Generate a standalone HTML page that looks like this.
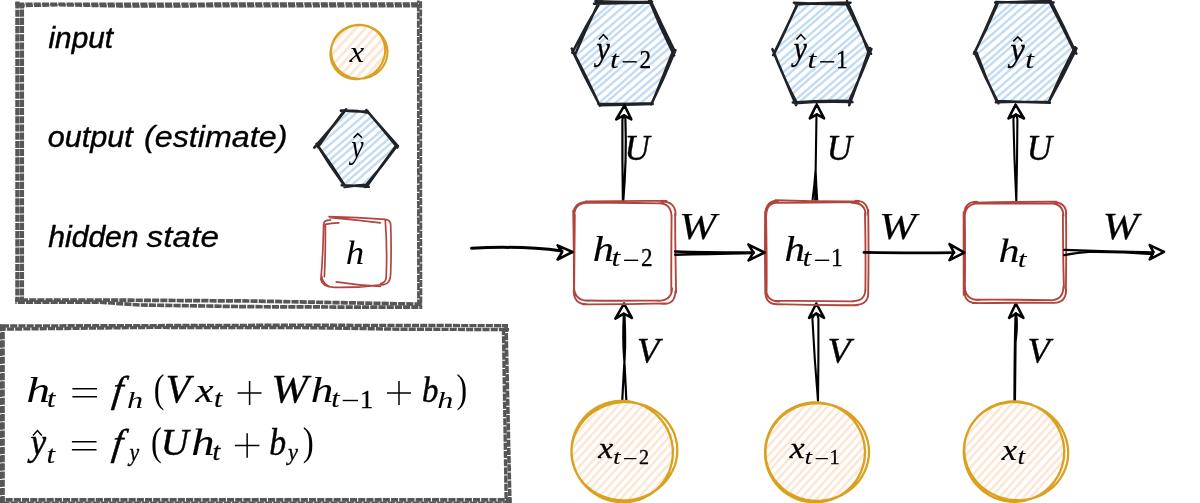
<!DOCTYPE html>
<html><head><meta charset="utf-8"><title>RNN</title>
<style>html,body{margin:0;padding:0;background:#fff;}svg{display:block;will-change:transform;}text{white-space:pre;font-kerning:none;}</style></head>
<body><svg width="1200" height="503" viewBox="0 0 1200 503">
<rect width="1200" height="503" fill="#fff"/>
<path d="M17.4,1.5 L17.4,301.5" fill="none" stroke="#565656" stroke-width="4.3" stroke-dasharray="7.1 1.1" stroke-dashoffset="0.0" stroke-linejoin="round"/>
<path d="M21.9,4.5 L21.9,300.5" fill="none" stroke="#565656" stroke-width="4.3" stroke-dasharray="7.1 1.1" stroke-dashoffset="3.1" stroke-linejoin="round"/>
<path d="M15.3,3.9 L60.0,3.9 L421.5,3.6" fill="none" stroke="#565656" stroke-width="2.8" stroke-dasharray="7.1 1.1" stroke-dashoffset="6.2" stroke-linejoin="round"/>
<path d="M19.0,6.0 L60.0,5.2 L120.0,6.3 L421.5,6.2" fill="none" stroke="#565656" stroke-width="2.7" stroke-dasharray="7.1 1.1" stroke-dashoffset="1.3" stroke-linejoin="round"/>
<path d="M418.3,0.5 L418.5,305.0" fill="none" stroke="#565656" stroke-width="2.8" stroke-dasharray="7.1 1.1" stroke-dashoffset="4.4" stroke-linejoin="round"/>
<path d="M420.7,0.5 L420.9,308.8" fill="none" stroke="#565656" stroke-width="2.8" stroke-dasharray="7.1 1.1" stroke-dashoffset="7.5" stroke-linejoin="round"/>
<path d="M15.3,300.0 L130.0,300.2 L250.0,301.0 L390.0,303.6 L421.8,304.2" fill="none" stroke="#565656" stroke-width="3.7" stroke-dasharray="7.1 1.1" stroke-dashoffset="2.6" stroke-linejoin="round"/>
<path d="M15.3,302.2 L100.0,302.2 L140.0,305.0 L250.0,306.7 L380.0,307.2 L421.8,307.2" fill="none" stroke="#565656" stroke-width="3.7" stroke-dasharray="7.1 1.1" stroke-dashoffset="5.7" stroke-linejoin="round"/>
<text transform="translate(48.52,47.50) scale(1.0075,1.0000)" font-family='"Liberation Sans", sans-serif' font-style="italic" font-weight="normal" font-size="29.50" fill="#000" stroke="#000" stroke-width="0.47" stroke-linejoin="round">input</text>
<text transform="translate(47.70,146.70) scale(1.0368,1.0000)" font-family='"Liberation Sans", sans-serif' font-style="italic" font-weight="normal" font-size="29.50" fill="#000" stroke="#000" stroke-width="0.42" stroke-linejoin="round">output</text>
<text transform="translate(143.99,146.70) scale(1.0938,1.0000)" font-family='"Liberation Sans", sans-serif' font-style="italic" font-weight="normal" font-size="29.50" fill="#000" stroke="#000" stroke-width="0.33" stroke-linejoin="round">(estimate)</text>
<text transform="translate(48.20,246.70) scale(1.0212,1.0000)" font-family='"Liberation Sans", sans-serif' font-style="italic" font-weight="normal" font-size="29.50" fill="#000" stroke="#000" stroke-width="0.45" stroke-linejoin="round">hidden</text>
<text transform="translate(146.62,246.70) scale(1.1324,1.0000)" font-family='"Liberation Sans", sans-serif' font-style="italic" font-weight="normal" font-size="29.50" fill="#000" stroke="#000" stroke-width="0.27" stroke-linejoin="round">state</text>
<defs><clipPath id="lc"><ellipse cx="358.5" cy="52" rx="27" ry="27"/></clipPath></defs>
<path clip-path="url(#lc)" d="M296.2,55.0L355.3,-10.0M301.2,59.6L360.2,-5.6M306.3,64.2L364.7,-1.6M310.7,68.1L370.3,3.4M315.8,72.7L374.6,7.4M321.4,77.7L379.7,12.0M326.2,82.0L384.7,16.4M330.9,86.3L389.3,20.6M335.8,90.7L394.8,25.6M340.6,95.0L399.6,29.9M345.6,99.6L403.9,33.7M350.6,104.0L409.3,38.6M355.1,108.1L413.7,42.5M360.5,113.0L419.0,47.3" stroke="#fce7d6" stroke-width="2.8" fill="none" stroke-linecap="round"/>
<path d="M354.3,25.3 L357.2,25.0 L360.3,24.9 L363.3,25.2 L366.2,25.8 L369.1,26.6 L371.8,27.8 L374.5,29.2 L376.9,30.9 L379.2,32.8 L381.2,35.0 L382.9,37.3 L384.4,39.8 L385.7,42.4 L386.6,45.2 L387.2,48.0 L387.5,50.9 L387.4,53.7 L387.1,56.6 L386.4,59.4 L385.4,62.1 L384.2,64.7 L382.6,67.1 L380.8,69.4 L378.7,71.5 L376.4,73.3 L373.9,74.9 L371.3,76.2 L368.5,77.3 L365.6,78.1 L362.6,78.5 L359.6,78.7 L356.6,78.6 L353.6,78.1 L350.7,77.4 L347.9,76.3 L345.2,75.0 L342.7,73.4 L340.4,71.6 L338.3,69.6 L336.4,67.3 L334.8,64.9 L333.4,62.3 L332.4,59.6 L331.6,56.8 L331.2,54.0 L331.1,51.1 L331.3,48.2 L331.9,45.4 L332.7,42.7 L333.9,40.0 L335.3,37.5 L337.0,35.2 L339.0,33.0 L341.2,31.1 L343.6,29.3 L346.2,27.9 L348.9,26.7 L351.8,25.8 L354.7,25.2 L357.7,24.9 L360.7,24.9 L363.7,25.3 L366.6,25.9 L369.5,26.8M381.6,37.2 L382.9,39.6 L383.9,42.2 L384.6,44.8 L385.0,47.6 L385.2,50.4 L385.0,53.2 L384.6,56.0 L383.8,58.7 L382.8,61.4 L381.6,64.0 L380.0,66.4 L378.3,68.7 L376.3,70.8 L374.1,72.8 L371.7,74.5 L369.2,75.9 L366.6,77.1 L363.8,78.0 L361.1,78.7 L358.2,79.1 L355.4,79.2 L352.6,78.9 L349.8,78.4 L347.2,77.7 L344.6,76.6 L342.2,75.3 L340.0,73.7 L337.9,71.9 L336.1,69.9 L334.5,67.7 L333.1,65.3 L332.0,62.8 L331.2,60.2 L330.7,57.5 L330.4,54.7 L330.5,51.9 L330.9,49.1 L331.5,46.3 L332.4,43.6 L333.6,41.0 L335.1,38.5 L336.8,36.2 L338.7,34.0 L340.8,32.0 L343.1,30.3 L345.6,28.7 L348.2,27.4 L350.9,26.4 L353.7,25.7 L356.5,25.2 L359.3,25.0 L362.1,25.2 L364.9,25.6 L367.6,26.3 L370.2,27.2 L372.7,28.5 L375.0,30.0 L377.1,31.7 L379.0,33.6 L380.7,35.8 L382.1,38.1 L383.3,40.6 L384.2,43.2 L384.8,45.9" fill="none" stroke="#d9a11f" stroke-width="2.1" stroke-linecap="round" stroke-linejoin="round"/>
<text transform="translate(349.60,61.90) scale(1.0891,1.0000)" font-family='"Liberation Serif", serif' font-style="italic" font-weight="normal" font-size="30.28" fill="#000">x</text>
<defs><clipPath id="lh"><path d="M317.3,146.5 L343.6,111.2 L367.6,111.7 L396.8,147.0 L366.8,185.6 L344.6,185.5 Z"/></clipPath></defs>
<path clip-path="url(#lh)" d="M272.1,141.7L362.4,62.9M276.1,146.2L366.2,67.2M279.3,149.9L370.2,71.9M284.1,155.5L374.4,76.7M287.6,159.5L377.3,80.1M291.0,163.4L381.1,84.4M294.3,167.1L384.6,88.4M298.0,171.5L389.4,93.9M302.5,176.6L392.9,98.0M306.2,180.9L395.8,101.3M309.2,184.4L400.1,106.2M313.5,189.3L404.1,110.9M317.4,193.7L406.8,113.9M320.7,197.6L411.2,119.1M324.3,201.7L414.3,122.6M328.0,205.9L417.9,126.7M332.3,210.9L422.6,132.1M335.5,214.5L425.6,135.6M339.6,219.3L429.6,140.2M343.3,223.5L433.7,144.9M346.5,227.2L436.8,148.5M350.3,231.6L440.5,152.8" stroke="#c3dbf3" stroke-width="2.4" fill="none" stroke-linecap="round"/>
<path d="M318.0,147.1Q330.2,128.8 344.4,110.5M340.9,110.6Q354.6,109.8 368.3,112.7M366.4,110.1Q381.8,127.7 397.4,147.5M395.4,146.8Q380.9,166.5 366.5,186.8M367.7,184.9Q356.1,185.1 344.5,187.0M344.2,184.6Q332.2,165.6 318.0,146.0M314.3,147.6Q331.7,128.3 346.1,109.4M344.7,110.5Q356.2,111.9 367.8,111.2M366.5,110.5Q382.0,128.2 397.9,146.2M395.7,147.4Q381.0,167.6 364.6,186.8M368.7,186.8Q355.2,185.4 341.7,185.2M343.6,184.6Q329.5,165.2 316.6,143.9" fill="none" stroke="#1f2328" stroke-width="2.6" stroke-linecap="round" stroke-linejoin="round"/>
<text transform="translate(351.33,157.60) scale(0.8194,1.0000)" font-family='"Liberation Serif", serif' font-style="italic" font-weight="normal" font-size="33.99" fill="#000">y</text>
<path d="M353.55,137.80 L357.80,133.60 L362.05,137.80" fill="none" stroke="#000" stroke-width="1.5" stroke-linejoin="miter" stroke-linecap="butt"/>
<path d="M329,216.6 Q357,217.4 385.3,219.3 Q390.9,219.9 390.7,225.5 Q391.6,250 390.6,274.8 Q390.2,284 383.6,284.6 Q360,287.8 335.3,287.3 Q322.5,287.6 320.9,279.6 Q323.2,252 323.6,224.7 Q323.8,219.6 330.4,220.2 M338.8,222.9 Q331,223.2 325.4,224.4 Q325.6,250 324.4,276.8 M329.9,217.6 Q355,219.6 380.4,222.9 M385.3,220.6 Q387.4,248 386.2,277 Q386,282.6 380.6,283.6 M336.2,281.9 Q358,285.4 380.4,286.4 M321.6,276 Q322.6,284 330,286.8" fill="none" stroke="#b2443e" stroke-width="1.7" stroke-linecap="round" stroke-linejoin="round"/>
<text transform="translate(345.67,263.90) scale(1.0723,1.0000)" font-family='"Liberation Serif", serif' font-style="italic" font-weight="normal" font-size="34.45" fill="#000">h</text>
<path d="M0.2,324.2 L0.2,503.0" fill="none" stroke="#565656" stroke-width="3.8" stroke-dasharray="7.1 1.1" stroke-dashoffset="0.0" stroke-linejoin="round"/>
<path d="M3.0,327.0 L3.0,503.0" fill="none" stroke="#565656" stroke-width="3.6" stroke-dasharray="7.1 1.1" stroke-dashoffset="3.1" stroke-linejoin="round"/>
<path d="M0.0,326.0 L150.0,325.6 L300.0,325.2 L508.0,325.7" fill="none" stroke="#565656" stroke-width="3.4" stroke-dasharray="7.1 1.1" stroke-dashoffset="6.2" stroke-linejoin="round"/>
<path d="M0.0,329.2 L150.0,327.4 L300.0,327.6 L400.0,329.2 L509.0,329.6" fill="none" stroke="#565656" stroke-width="3.4" stroke-dasharray="7.1 1.1" stroke-dashoffset="1.3" stroke-linejoin="round"/>
<path d="M503.4,324.2 L506.2,503.0" fill="none" stroke="#565656" stroke-width="3.4" stroke-dasharray="7.1 1.1" stroke-dashoffset="4.4" stroke-linejoin="round"/>
<path d="M506.0,324.2 L509.9,503.0" fill="none" stroke="#565656" stroke-width="3.6" stroke-dasharray="7.1 1.1" stroke-dashoffset="7.5" stroke-linejoin="round"/>
<path d="M0.0,499.9 L511.5,499.9" fill="none" stroke="#565656" stroke-width="3.6" stroke-dasharray="7.1 1.1" stroke-dashoffset="2.6" stroke-linejoin="round"/>
<path d="M0.0,503.2 L511.8,503.2" fill="none" stroke="#565656" stroke-width="3.6" stroke-dasharray="7.1 1.1" stroke-dashoffset="5.7" stroke-linejoin="round"/>
<text transform="translate(26.37,402.20) scale(1.3168,1.0000)" font-family='"Liberation Serif", serif' font-style="italic" font-weight="normal" font-size="36.32" fill="#000">h</text>
<text transform="translate(46.97,407.10) scale(1.2023,1.0000)" font-family='"Liberation Serif", serif' font-style="italic" font-weight="normal" font-size="25.22" fill="#000" stroke="#000" stroke-width="0.16" stroke-linejoin="round">t</text>
<path d="M72.4,388.8H97M72.4,396.7H97" stroke="#000" stroke-width="1.5" fill="none"/>
<text transform="translate(111.56,402.20) scale(0.9986,1.0000) skewX(-7.0)" font-family='"Liberation Serif", serif' font-style="italic" font-weight="normal" font-size="37.35" fill="#000" stroke="#000" stroke-width="0.45" stroke-linejoin="round">f</text>
<text transform="translate(127.04,407.60) scale(1.3623,1.0000)" font-family='"Liberation Serif", serif' font-style="italic" font-weight="normal" font-size="23.64" fill="#000">h</text>
<text transform="translate(153.80,402.42) scale(0.7982,0.9953)" font-family='"Liberation Serif", serif' font-style="normal" font-weight="normal" font-size="40.00" fill="#000">(</text>
<text transform="translate(165.71,402.20) scale(1.0195,1.0000)" font-family='"Liberation Serif", serif' font-style="italic" font-weight="normal" font-size="39.25" fill="#000" stroke="#000" stroke-width="0.45" stroke-linejoin="round">V</text>
<text transform="translate(195.50,402.20) scale(1.1708,1.0000)" font-family='"Liberation Serif", serif' font-style="italic" font-weight="normal" font-size="34.64" fill="#000" stroke="#000" stroke-width="0.21" stroke-linejoin="round">x</text>
<text transform="translate(213.98,407.30) scale(1.1702,1.0000)" font-family='"Liberation Serif", serif' font-style="italic" font-weight="normal" font-size="25.58" fill="#000" stroke="#000" stroke-width="0.21" stroke-linejoin="round">t</text>
<path d="M237.6,392.9H261.6M249.60000000000002,380.9V404.9" stroke="#000" stroke-width="1.5" fill="none"/>
<text transform="translate(271.29,402.20) scale(1.1246,1.0000)" font-family='"Liberation Serif", serif' font-style="italic" font-weight="normal" font-size="39.25" fill="#000" stroke="#000" stroke-width="0.28" stroke-linejoin="round">W</text>
<text transform="translate(310.87,402.20) scale(1.2305,1.0000)" font-family='"Liberation Serif", serif' font-style="italic" font-weight="normal" font-size="36.75" fill="#000" stroke="#000" stroke-width="0.11" stroke-linejoin="round">h</text>
<text transform="translate(331.37,407.10) scale(1.2283,1.0000)" font-family='"Liberation Serif", serif' font-style="italic" font-weight="normal" font-size="24.69" fill="#000" stroke="#000" stroke-width="0.11" stroke-linejoin="round">t</text>
<path d="M342.7,400.5H358" stroke="#000" stroke-width="1.4"/>
<text transform="translate(360.08,407.60) scale(1.0319,1.0000)" font-family='"Liberation Serif", serif' font-style="normal" font-weight="normal" font-size="25.60" fill="#000" stroke="#000" stroke-width="0.35" stroke-linejoin="round">1</text>
<path d="M387,392.9H411M399.0,380.9V404.9" stroke="#000" stroke-width="1.5" fill="none"/>
<text transform="translate(421.88,402.20) scale(0.9037,1.0000)" font-family='"Liberation Serif", serif' font-style="italic" font-weight="normal" font-size="36.32" fill="#000" stroke="#000" stroke-width="0.45" stroke-linejoin="round">b</text>
<text transform="translate(437.24,407.60) scale(1.3623,1.0000)" font-family='"Liberation Serif", serif' font-style="italic" font-weight="normal" font-size="23.64" fill="#000">h</text>
<text transform="translate(456.47,402.42) scale(0.7982,0.9953)" font-family='"Liberation Serif", serif' font-style="normal" font-weight="normal" font-size="40.00" fill="#000">)</text>
<text transform="translate(30.54,454.80) scale(0.9458,1.0000)" font-family='"Liberation Serif", serif' font-style="italic" font-weight="normal" font-size="37.26" fill="#000" stroke="#000" stroke-width="0.45" stroke-linejoin="round">y</text>
<path d="M33.00,435.50 L37.40,430.60 L41.80,435.50" fill="none" stroke="#000" stroke-width="1.5" stroke-linejoin="miter" stroke-linecap="butt"/>
<text transform="translate(46.43,463.40) scale(1.2336,1.0000)" font-family='"Liberation Serif", serif' font-style="italic" font-weight="normal" font-size="25.22" fill="#000" stroke="#000" stroke-width="0.11" stroke-linejoin="round">t</text>
<path d="M71.9,441.8H96.5M71.9,449.7H96.5" stroke="#000" stroke-width="1.5" fill="none"/>
<text transform="translate(111.16,455.20) scale(0.9986,1.0000) skewX(-7.0)" font-family='"Liberation Serif", serif' font-style="italic" font-weight="normal" font-size="37.35" fill="#000" stroke="#000" stroke-width="0.45" stroke-linejoin="round">f</text>
<text transform="translate(129.42,460.60) scale(0.8772,1.0000)" font-family='"Liberation Serif", serif' font-style="italic" font-weight="normal" font-size="24.84" fill="#000" stroke="#000" stroke-width="0.35" stroke-linejoin="round">y</text>
<text transform="translate(151.08,455.21) scale(0.8079,1.0091)" font-family='"Liberation Serif", serif' font-style="normal" font-weight="normal" font-size="40.00" fill="#000">(</text>
<text transform="translate(160.63,455.20) scale(0.9978,1.0000)" font-family='"Liberation Serif", serif' font-style="italic" font-weight="normal" font-size="38.94" fill="#000" stroke="#000" stroke-width="0.45" stroke-linejoin="round">U</text>
<text transform="translate(191.31,455.20) scale(1.2259,1.0000)" font-family='"Liberation Serif", serif' font-style="italic" font-weight="normal" font-size="38.05" fill="#000" stroke="#000" stroke-width="0.12" stroke-linejoin="round">h</text>
<text transform="translate(212.59,459.70) scale(1.0930,1.0000)" font-family='"Liberation Serif", serif' font-style="italic" font-weight="normal" font-size="25.22" fill="#000" stroke="#000" stroke-width="0.33" stroke-linejoin="round">t</text>
<path d="M234.9,445.5H259.4M247.14999999999998,433.25V457.75" stroke="#000" stroke-width="1.5" fill="none"/>
<text transform="translate(269.35,455.20) scale(0.8870,1.0000)" font-family='"Liberation Serif", serif' font-style="italic" font-weight="normal" font-size="38.05" fill="#000" stroke="#000" stroke-width="0.45" stroke-linejoin="round">b</text>
<text transform="translate(288.07,460.40) scale(0.9501,1.0000)" font-family='"Liberation Serif", serif' font-style="italic" font-weight="normal" font-size="23.53" fill="#000" stroke="#000" stroke-width="0.35" stroke-linejoin="round">y</text>
<text transform="translate(302.73,455.21) scale(0.8274,1.0091)" font-family='"Liberation Serif", serif' font-style="normal" font-weight="normal" font-size="40.00" fill="#000">)</text>
<defs><clipPath id="hx0"><path d="M574.3,52.0 L598.5,2.6 L650.4,2.2 L673.2,52.0 L651.6,104.0 L598.8,104.0 Z"/></clipPath></defs>
<path clip-path="url(#hx0)" d="M518.0,45.8L630.9,-53.0M521.1,49.3L635.0,-48.2M525.0,53.8L638.2,-44.5M529.0,58.3L642.4,-39.7M533.4,63.5L645.9,-35.7M537.1,67.7L650.3,-30.6M539.9,70.9L652.8,-27.8M543.4,75.0L657.5,-22.3M547.7,79.9L661.3,-18.0M551.9,84.7L664.6,-14.1M555.0,88.3L667.6,-10.7M558.1,91.8L672.2,-5.4M562.6,97.0L675.9,-1.2M566.2,101.1L679.5,2.9M570.0,105.5L683.5,7.5M573.0,109.0L686.6,11.2M576.9,113.5L690.8,15.9M581.4,118.6L693.7,19.3M584.0,121.7L697.4,23.6M588.1,126.3L701.8,28.6M591.9,130.7L705.5,32.8M595.4,134.8L708.9,36.8M599.0,138.9L712.7,41.2M603.1,143.6L716.7,45.8M607.4,148.5L720.0,49.5M609.9,151.5L724.2,54.4M614.8,157.0L727.3,58.0" stroke="#c3dbf3" stroke-width="2.4" fill="none" stroke-linecap="round"/>
<path d="M572.3,52.6Q585.5,26.2 601.2,0.3M594.0,3.8Q622.3,3.1 650.6,2.6M649.3,-2.1Q661.9,25.1 674.7,51.1M675.5,50.1Q664.3,77.9 651.1,104.7M652.7,103.9Q626.1,104.8 599.5,105.2M599.0,104.0Q584.3,76.8 572.3,50.6M575.1,54.6Q585.8,29.3 598.0,4.0M595.4,1.2Q623.7,2.4 652.1,1.8M649.5,0.8Q660.4,28.1 674.2,55.5M673.2,50.8Q663.2,76.6 652.0,103.3M652.2,103.2Q625.3,104.2 598.3,103.8M599.8,105.8Q587.0,77.4 571.7,48.5" fill="none" stroke="#1f2328" stroke-width="2.5" stroke-linecap="round" stroke-linejoin="round"/>
<defs><clipPath id="hx1"><path d="M774.5,53.0 L797.2,4.0 L847.6,3.0 L869.6,51.0 L849.8,101.6 L796.0,102.0 Z"/></clipPath></defs>
<path clip-path="url(#hx1)" d="M718.9,44.6L828.7,-50.6M723.1,49.4L833.2,-45.4M726.5,53.3L836.1,-42.0M730.3,57.7L840.7,-36.8M733.9,61.8L844.3,-32.6M738.3,66.9L847.2,-29.2M741.8,70.9L851.3,-24.5M745.4,75.0L855.8,-19.4M748.6,78.8L858.2,-16.6M753.5,84.3L862.4,-11.8M756.2,87.4L866.0,-7.7M760.1,92.0L870.5,-2.5M763.6,96.0L873.2,0.7M767.8,100.8L877.4,5.4M772.0,105.6L881.5,10.1M774.9,109.0L884.3,13.4M779.2,113.9L889.1,18.9M781.9,117.0L892.4,22.7M786.7,122.5L896.0,26.9M789.5,125.8L899.9,31.3M793.9,130.8L902.8,34.7M797.5,134.9L906.6,39.0M800.4,138.3L910.4,43.4M804.5,143.0L914.2,47.8M808.6,147.7L918.5,52.7M812.7,152.4L922.3,57.2" stroke="#c3dbf3" stroke-width="2.4" fill="none" stroke-linecap="round"/>
<path d="M773.1,55.2Q785.5,29.5 797.6,4.2M795.5,4.5Q823.0,2.3 850.5,2.8M847.0,1.1Q859.4,27.2 868.4,52.0M871.4,49.0Q861.3,75.1 848.5,102.5M850.8,101.0Q821.8,100.2 792.8,102.4M796.1,105.2Q785.0,79.2 773.9,52.8M774.5,53.3Q785.9,29.6 797.0,4.7M793.9,2.7Q820.5,4.4 847.0,4.1M846.5,4.2Q858.4,28.9 871.0,53.8M869.9,48.0Q859.9,76.8 849.2,105.3M852.4,102.1Q823.6,101.0 794.7,103.2M797.2,103.7Q783.1,76.9 772.4,49.1" fill="none" stroke="#1f2328" stroke-width="2.5" stroke-linecap="round" stroke-linejoin="round"/>
<defs><clipPath id="hx2"><path d="M975.5,52.5 L997.2,2.4 L1049.6,2.0 L1074.6,51.4 L1047.8,101.6 L998.3,101.8 Z"/></clipPath></defs>
<path clip-path="url(#hx2)" d="M919.6,43.9L1032.0,-53.4M923.6,48.5L1036.6,-48.1M927.6,53.1L1040.1,-44.1M930.8,56.7L1043.5,-40.2M935.4,62.1L1047.2,-35.9M939.3,66.5L1051.4,-31.1M942.2,69.9L1053.9,-28.2M946.4,74.7L1057.8,-23.7M949.2,77.9L1062.3,-18.6M953.9,83.4L1066.1,-14.1M957.8,87.8L1069.0,-10.8M960.4,90.8L1072.6,-6.7M965.2,96.4L1076.3,-2.5M967.9,99.4L1079.9,1.7M971.4,103.5L1083.6,5.9M975.5,108.2L1087.4,10.4M979.2,112.4L1092.1,15.8M982.7,116.4L1095.7,19.9M987.1,121.5L1099.1,23.8M990.6,125.6L1103.0,28.3M994.3,129.8L1106.0,31.8M997.7,133.7L1109.7,36.0M1001.5,138.1L1114.4,41.4M1005.2,142.4L1116.9,44.3M1009.0,146.7L1121.6,49.7M1012.6,150.9L1125.2,53.8M1015.9,154.6L1128.0,57.1" stroke="#c3dbf3" stroke-width="2.4" fill="none" stroke-linecap="round"/>
<path d="M974.0,53.6Q987.3,27.8 997.8,3.3M995.1,2.4Q1021.5,1.9 1047.8,1.1M1050.3,0.2Q1063.9,26.3 1076.4,53.7M1075.0,47.2Q1060.7,74.5 1048.4,102.7M1049.1,101.7Q1022.5,101.7 995.8,102.2M998.5,103.3Q985.0,78.0 974.4,52.0M974.3,53.6Q986.1,28.3 996.9,2.8M996.0,2.0Q1024.8,2.9 1053.6,2.4M1047.5,-2.0Q1062.4,26.3 1075.3,53.1M1076.5,48.4Q1063.4,75.7 1048.7,102.2M1049.9,102.8Q1023.6,101.8 997.4,101.0M997.1,102.1Q985.2,77.5 976.5,52.5" fill="none" stroke="#1f2328" stroke-width="2.5" stroke-linecap="round" stroke-linejoin="round"/>
<defs><clipPath id="cc0"><ellipse cx="623.2" cy="451.2" rx="52" ry="49.4"/></clipPath></defs>
<path clip-path="url(#cc0)" d="M516.3,456.8L617.4,344.1M520.8,460.9L621.8,348.0M525.0,464.7L626.8,352.5M529.0,468.3L630.6,356.0M534.0,472.7L634.8,359.7M537.9,476.3L639.8,364.3M543.0,480.9L643.7,367.8M546.7,484.2L648.7,372.3M551.2,488.3L652.8,375.9M555.8,492.4L657.2,379.9M560.5,496.6L661.9,384.1M564.7,500.4L666.1,387.9M569.1,504.4L670.3,391.7M573.2,508.1L674.4,395.4M577.4,511.9L679.4,399.9M582.2,516.2L683.0,403.2M586.8,520.3L687.5,407.2M591.0,524.1L692.1,411.3M595.0,527.7L696.3,415.1M599.6,531.9L700.8,419.2M604.1,535.9L705.5,423.4M608.6,540.0L710.0,427.4M612.8,543.8L714.5,431.5M617.1,547.6L718.8,435.4M621.8,551.8L723.1,439.3M625.5,555.2L727.3,443.0" stroke="#fce7d6" stroke-width="2.5" fill="none" stroke-linecap="round"/>
<defs><clipPath id="cc1"><ellipse cx="816" cy="452" rx="50.8" ry="49.2"/></clipPath></defs>
<path clip-path="url(#cc1)" d="M710.2,457.3L810.5,346.5M714.6,461.2L815.1,350.7M719.0,465.2L819.3,354.4M724.0,469.7L823.5,358.2M728.4,473.7L828.2,362.5M732.4,477.3L832.5,366.3M736.9,481.3L836.7,370.1M741.6,485.6L841.1,374.0M746.0,489.5L845.9,378.3M749.5,492.7L849.7,381.8M754.3,497.0L854.6,386.2M758.4,500.7L858.8,390.0M763.0,504.8L863.3,394.1M767.9,509.2L867.7,398.0M771.6,512.6L872.1,402.0M776.2,516.7L876.5,406.0M780.6,520.7L881.0,410.0M785.4,525.0L885.3,413.8M789.7,528.9L889.7,417.8M793.9,532.6L893.5,421.2M798.6,536.9L898.1,425.4M802.1,540.0L902.5,429.3M806.9,544.3L906.7,433.1M811.7,548.7L911.0,437.0M816.1,552.6L915.7,441.3M819.8,556.0L920.0,445.1" stroke="#fce7d6" stroke-width="2.5" fill="none" stroke-linecap="round"/>
<defs><clipPath id="cc2"><ellipse cx="1015" cy="451.2" rx="51.2" ry="49.2"/></clipPath></defs>
<path clip-path="url(#cc2)" d="M909.5,457.1L1009.1,344.9M913.7,460.9L1013.8,349.2M918.2,465.0L1018.1,353.1M922.6,468.9L1022.3,356.8M927.0,472.9L1026.9,361.0M930.7,476.2L1031.2,364.9M935.5,480.5L1035.3,368.6M939.7,484.3L1039.7,372.5M943.8,488.0L1044.2,376.6M948.3,492.1L1048.7,380.6M953.2,496.5L1053.2,384.7M957.6,500.5L1058.0,389.0M962.0,504.4L1062.5,393.0M966.1,508.1L1066.6,396.7M970.8,512.3L1070.9,400.6M974.5,515.7L1075.2,404.5M979.2,519.9L1079.3,408.2M983.2,523.5L1083.7,412.1M988.2,528.0L1088.6,416.6M992.5,531.9L1092.7,420.2M996.3,535.3L1096.7,423.8M1001.3,539.8L1101.6,428.2M1005.5,543.6L1105.6,431.9M1009.6,547.3L1110.0,435.8M1014.0,551.2L1114.8,440.1M1018.5,555.3L1119.1,444.0" stroke="#fce7d6" stroke-width="2.5" fill="none" stroke-linecap="round"/>
<path d="M622.9,201.7 Q622.2,160.0 622.4,119.7M622.4,119.7 Q622.8,117.0 624.2,115.5M623.2,201.7 Q626.8,160.0 625.4,119.0M625.4,119.0 Q625.2,117.0 624.4,115.5" fill="none" stroke="#000" stroke-width="2.2" stroke-linecap="round" stroke-linejoin="round"/>
<path d="M616.2,119.4 L624.5,105.4M616.2,119.4 L624.0,115.4M631.3,119.3 L624.5,105.4M631.3,119.3 L624.0,115.4" fill="none" stroke="#000" stroke-width="2.55" stroke-linecap="round" stroke-linejoin="round"/>
<path d="M812.6,199.7 Q814.5,185.0 815.6,170.0M817.2,199.7 Q816.2,185.0 815.6,170.0M815.2,199.7 Q815.8,150.0 816.5,114.5" fill="none" stroke="#000" stroke-width="2.1" stroke-linecap="round" stroke-linejoin="round"/>
<path d="M809.8,118.4 L816.7,104.4M809.8,118.4 L816.9,114.4M824.1,118.4 L816.7,104.4M824.1,118.4 L816.9,114.4" fill="none" stroke="#000" stroke-width="2.55" stroke-linecap="round" stroke-linejoin="round"/>
<path d="M1016.3,200.8 Q1014.2,160.0 1013.4,119.0M1013.4,119.0 Q1014.0,116.0 1015.4,114.6M1016.3,200.8 Q1017.2,160.0 1017.4,119.0M1017.4,119.0 Q1016.8,116.0 1015.6,114.6" fill="none" stroke="#000" stroke-width="2.1" stroke-linecap="round" stroke-linejoin="round"/>
<path d="M1008.5,118.4 L1015.6,104.6M1008.5,118.4 L1016.1,114.6M1024.0,118.5 L1015.6,104.6M1024.0,118.5 L1016.1,114.6" fill="none" stroke="#000" stroke-width="2.55" stroke-linecap="round" stroke-linejoin="round"/>
<path d="M622.3,399.7 Q623.6,375.0 624.6,359.0M624.6,359.0 Q625.8,340.0 624.4,314.0M626.3,399.7 Q625.2,375.0 624.2,359.0M624.2,359.0 Q622.6,340.0 623.8,314.0" fill="none" stroke="#000" stroke-width="2.2" stroke-linecap="round" stroke-linejoin="round"/>
<path d="M615.4,318.6 L624.0,303.7M615.4,318.6 L623.8,313.7M631.9,317.8 L624.0,303.7M631.9,317.8 L623.8,313.7" fill="none" stroke="#000" stroke-width="2.55" stroke-linecap="round" stroke-linejoin="round"/>
<path d="M818.0,400.8 Q814.5,360.0 812.4,318.5M812.4,318.5 Q813.5,315.0 815.8,313.5M818.0,400.8 Q818.6,360.0 818.4,318.5M818.4,318.5 Q817.8,315.0 816.4,313.5" fill="none" stroke="#000" stroke-width="2.1" stroke-linecap="round" stroke-linejoin="round"/>
<path d="M809.1,317.8 L816.3,303.5M809.1,317.8 L816.5,313.5M824.1,317.8 L816.3,303.5M824.1,317.8 L816.5,313.5" fill="none" stroke="#000" stroke-width="2.55" stroke-linecap="round" stroke-linejoin="round"/>
<path d="M1014.5,400.8 Q1014.6,350.0 1015.6,313.5M1014.9,400.8 Q1015.2,360.0 1015.5,342.0M1015.5,342.0 Q1017.8,325.0 1016.0,313.5" fill="none" stroke="#000" stroke-width="2.3" stroke-linecap="round" stroke-linejoin="round"/>
<path d="M1009.1,317.8 L1015.8,303.5M1009.1,317.8 L1016.1,313.5M1023.4,317.8 L1015.8,303.5M1023.4,317.8 L1016.1,313.5" fill="none" stroke="#000" stroke-width="2.55" stroke-linecap="round" stroke-linejoin="round"/>
<path d="M605.9,405.5 L611.3,403.8 L616.8,402.7 L622.5,402.1 L628.1,402.1 L633.7,402.7 L639.2,403.8 L644.6,405.4 L649.7,407.6 L654.5,410.3 L658.9,413.4 L663.0,417.0 L666.7,420.9 L669.8,425.2 L672.5,429.8 L674.6,434.6 L676.1,439.7 L677.0,444.8 L677.3,450.1 L677.1,455.3 L676.2,460.5 L674.8,465.6 L672.7,470.5 L670.1,475.2 L667.0,479.7 L663.4,483.8 L659.4,487.5 L655.0,490.8 L650.2,493.7 L645.1,496.1 L639.8,498.0 L634.3,499.3 L628.7,500.1 L623.1,500.4 L617.4,500.0 L611.9,499.2 L606.5,497.7 L601.3,495.8 L596.3,493.3 L591.7,490.4 L587.5,487.0 L583.6,483.2 L580.3,479.1 L577.4,474.6 L575.1,469.8 L573.3,464.9 L572.1,459.8 L571.5,454.6 L571.5,449.3 L572.1,444.1 L573.4,439.0 L575.1,434.0 L577.5,429.2 L580.4,424.6 L583.8,420.3 L587.6,416.4 L591.9,412.9 L596.5,409.9 L601.5,407.3 L606.7,405.2 L612.1,403.6 L617.7,402.6 L623.3,402.1 L629.0,402.2 L634.6,402.8M662.9,422.0 L665.8,426.4 L668.2,431.1 L670.2,436.0 L671.6,441.1 L672.5,446.2 L672.9,451.5 L672.7,456.7 L672.0,461.9 L670.7,467.0 L669.0,471.9 L666.7,476.6 L663.9,481.1 L660.7,485.2 L657.1,488.9 L653.1,492.3 L648.8,495.2 L644.2,497.6 L639.3,499.6 L634.3,501.0 L629.2,501.9 L623.9,502.3 L618.7,502.1 L613.5,501.4 L608.3,500.1 L603.4,498.4 L598.6,496.1 L594.1,493.3 L589.9,490.1 L586.0,486.5 L582.5,482.5 L579.5,478.2 L576.9,473.6 L574.8,468.8 L573.2,463.7 L572.1,458.6 L571.6,453.3 L571.6,448.1 L572.1,442.9 L573.2,437.8 L574.8,432.8 L577.0,428.0 L579.6,423.5 L582.6,419.3 L586.1,415.4 L590.0,411.9 L594.2,408.9 L598.8,406.3 L603.5,404.2 L608.5,402.6 L613.6,401.5 L618.8,401.0 L624.1,401.0 L629.3,401.5 L634.5,402.6 L639.5,404.2 L644.3,406.3 L648.9,408.9 L653.3,412.0 L657.2,415.5 L660.8,419.4 L664.0,423.6 L666.8,428.1 L669.0,432.9 L670.8,437.9" fill="none" stroke="#d9a11f" stroke-width="2.3" stroke-linecap="round" stroke-linejoin="round"/>
<path d="M804.2,404.7 L809.6,403.6 L815.2,403.1 L820.7,403.2 L826.2,403.8 L831.6,405.0 L836.8,406.7 L841.8,408.9 L846.5,411.7 L850.9,414.8 L854.9,418.4 L858.5,422.4 L861.6,426.7 L864.2,431.3 L866.2,436.2 L867.7,441.2 L868.7,446.3 L869.0,451.5 L868.8,456.8 L867.9,461.9 L866.5,467.0 L864.5,471.8 L862.0,476.5 L859.0,480.9 L855.5,484.9 L851.6,488.6 L847.2,491.8 L842.6,494.6 L837.6,496.9 L832.4,498.7 L827.1,500.0 L821.6,500.7 L816.1,500.9 L810.6,500.5 L805.1,499.6 L799.8,498.1 L794.7,496.1 L789.9,493.6 L785.3,490.6 L781.2,487.1 L777.4,483.3 L774.1,479.1 L771.3,474.7 L769.0,469.9 L767.2,465.0 L766.1,459.9 L765.5,454.7 L765.5,449.4 L766.1,444.3 L767.2,439.2 L769.0,434.2 L771.2,429.4 L774.1,425.0 L777.4,420.8 L781.1,416.9 L785.3,413.5 L789.8,410.5 L794.6,408.0 L799.7,406.0 L805.0,404.5 L810.5,403.5 L816.0,403.1 L821.5,403.3 L827.0,404.0 L832.4,405.2M855.1,422.4 L858.0,426.7 L860.4,431.2 L862.3,436.0 L863.7,441.0 L864.6,446.1 L865.0,451.3 L864.8,456.4 L864.1,461.6 L862.9,466.6 L861.1,471.5 L858.9,476.2 L856.2,480.6 L853.0,484.7 L849.5,488.5 L845.5,491.9 L841.3,494.8 L836.7,497.4 L831.9,499.4 L827.0,500.9 L821.9,501.9 L816.7,502.4 L811.6,502.3 L806.4,501.7 L801.4,500.6 L796.5,498.9 L791.8,496.8 L787.3,494.1 L783.1,491.1 L779.3,487.6 L775.9,483.7 L772.9,479.5 L770.3,475.0 L768.2,470.3 L766.7,465.4 L765.6,460.3 L765.1,455.1 L765.1,450.0 L765.6,444.8 L766.7,439.7 L768.3,434.8 L770.4,430.1 L772.9,425.5 L776.0,421.3 L779.4,417.4 L783.2,413.9 L787.4,410.8 L791.8,408.2 L796.5,406.0 L801.5,404.3 L806.5,403.2 L811.7,402.5 L816.8,402.4 L822.0,402.9 L827.1,403.8 L832.0,405.3 L836.8,407.3 L841.3,409.8 L845.6,412.7 L849.5,416.1 L853.1,419.8 L856.2,423.9 L858.9,428.4 L861.2,433.0 L862.9,437.9" fill="none" stroke="#d9a11f" stroke-width="2.3" stroke-linecap="round" stroke-linejoin="round"/>
<path d="M1015.7,402.1 L1021.3,402.5 L1026.8,403.5 L1032.1,405.0 L1037.3,407.0 L1042.3,409.5 L1046.9,412.5 L1051.2,416.0 L1055.1,419.8 L1058.6,424.0 L1061.5,428.5 L1064.0,433.3 L1065.9,438.3 L1067.2,443.4 L1068.0,448.6 L1068.2,453.9 L1067.8,459.1 L1066.8,464.2 L1065.2,469.2 L1063.0,473.9 L1060.4,478.4 L1057.2,482.6 L1053.6,486.5 L1049.5,489.9 L1045.0,492.9 L1040.3,495.4 L1035.2,497.5 L1029.9,499.0 L1024.5,499.9 L1019.0,500.3 L1013.5,500.1 L1007.9,499.4 L1002.5,498.2 L997.3,496.3 L992.2,494.0 L987.4,491.2 L983.0,488.0 L978.9,484.3 L975.3,480.2 L972.1,475.8 L969.4,471.2 L967.2,466.3 L965.7,461.2 L964.6,456.0 L964.2,450.8 L964.4,445.5 L965.1,440.4 L966.5,435.3 L968.4,430.5 L970.8,425.8 L973.8,421.5 L977.2,417.5 L981.1,413.9 L985.4,410.7 L990.1,408.0 L995.0,405.7 L1000.2,404.0 L1005.6,402.8 L1011.0,402.2 L1016.6,402.1 L1022.1,402.6 L1027.6,403.6 L1032.9,405.2 L1038.1,407.3 L1043.0,409.9M1047.7,414.5 L1051.4,418.2 L1054.6,422.2 L1057.5,426.6 L1059.8,431.2 L1061.7,436.1 L1063.1,441.1 L1063.9,446.2 L1064.2,451.4 L1064.0,456.6 L1063.2,461.8 L1061.9,466.8 L1060.1,471.7 L1057.8,476.3 L1055.0,480.7 L1051.8,484.8 L1048.2,488.5 L1044.2,491.8 L1039.9,494.7 L1035.3,497.1 L1030.5,499.0 L1025.5,500.5 L1020.4,501.4 L1015.2,501.8 L1010.0,501.6 L1004.8,500.9 L999.7,499.6 L994.8,497.9 L990.1,495.7 L985.7,492.9 L981.5,489.8 L977.8,486.2 L974.3,482.3 L971.4,478.0 L968.8,473.4 L966.8,468.6 L965.3,463.7 L964.3,458.6 L963.8,453.4 L963.9,448.2 L964.5,443.0 L965.6,438.0 L967.3,433.0 L969.4,428.3 L972.0,423.8 L975.1,419.7 L978.6,415.8 L982.5,412.4 L986.7,409.4 L991.2,406.8 L996.0,404.7 L1001.0,403.1 L1006.0,402.0 L1011.2,401.5 L1016.4,401.5 L1021.6,402.0 L1026.7,403.1 L1031.7,404.7 L1036.4,406.8 L1041.0,409.4 L1045.2,412.4 L1049.1,415.8 L1052.6,419.7 L1055.8,423.9 L1058.4,428.3" fill="none" stroke="#d9a11f" stroke-width="2.3" stroke-linecap="round" stroke-linejoin="round"/>
<path d="M585.4,201.3 Q624.6,200.7 666.6,200.9M661.3,201.5 Q675.9,201.3 675.6,215.3M675.1,213.2 Q675.3,252.6 676.1,292.6M675.4,290.8 Q675.6,304.2 662.6,303.9M665.7,303.4 Q624.6,304.5 583.0,304.4M586.8,304.2 Q573.3,304.1 573.7,289.8M573.9,293.9 Q574.0,252.6 573.2,210.6M573.6,215.2 Q573.2,201.6 588.5,201.7M583.9,202.9 Q623.0,202.4 662.8,203.4M658.0,203.3 Q671.6,202.7 671.6,217.5M671.6,215.4 Q671.2,252.0 671.3,291.9M672.1,288.2 Q671.9,300.8 657.4,300.8M662.1,300.4 Q623.0,301.1 585.1,300.5M588.7,301.0 Q574.3,300.8 574.0,286.5M574.1,292.1 Q574.4,252.0 574.8,214.3M574.1,217.5 Q573.8,203.0 586.9,202.8" fill="none" stroke="#b2443e" stroke-width="1.85" stroke-linecap="round" stroke-linejoin="round"/>
<path d="M775.3,200.1 Q817.0,201.7 859.4,201.5M855.6,200.6 Q868.1,200.6 868.1,214.4M868.2,209.8 Q868.9,252.7 868.2,293.0M868.3,292.3 Q868.5,304.4 855.8,304.9M857.9,305.2 Q817.0,305.5 775.1,304.2M778.0,304.4 Q765.7,304.6 765.4,292.3M765.3,293.9 Q764.7,252.7 765.1,211.9M765.4,214.0 Q765.5,201.0 778.3,200.5M777.5,202.7 Q815.8,202.6 854.5,202.0M851.7,202.7 Q865.5,202.7 865.6,214.9M865.0,212.9 Q865.8,251.9 865.4,291.0M865.3,288.5 Q865.7,301.5 852.2,301.2M853.7,301.3 Q815.8,300.7 775.8,300.9M779.3,301.5 Q766.0,301.2 766.0,288.0M766.6,290.9 Q766.9,251.9 766.0,213.0M766.2,215.8 Q766.2,202.5 778.4,202.5" fill="none" stroke="#b2443e" stroke-width="1.85" stroke-linecap="round" stroke-linejoin="round"/>
<path d="M973.7,202.6 Q1015.2,201.6 1056.5,201.7M1052.8,202.0 Q1066.3,202.2 1066.3,214.5M1066.0,211.3 Q1066.5,252.4 1065.8,294.3M1066.2,289.6 Q1065.9,302.9 1054.3,302.9M1055.3,302.8 Q1015.2,302.5 972.7,303.2M976.8,303.0 Q964.0,303.3 964.5,290.0M963.7,294.9 Q963.7,252.4 963.6,212.1M964.1,215.5 Q964.0,201.6 977.0,201.6M975.6,203.5 Q1014.0,203.8 1051.4,203.4M1049.5,203.3 Q1062.9,203.0 1063.5,215.8M1062.9,214.5 Q1062.9,251.5 1063.9,288.0M1063.4,286.7 Q1063.5,299.8 1050.3,300.3M1050.5,300.2 Q1014.0,299.5 975.2,299.7M978.8,300.1 Q965.0,299.7 965.0,286.8M964.9,290.5 Q965.3,251.5 964.8,213.7M964.6,217.5 Q964.9,203.2 979.5,203.1" fill="none" stroke="#b2443e" stroke-width="1.85" stroke-linecap="round" stroke-linejoin="round"/>
<path d="M471.5,248.2 Q520.0,245.6 562.0,250.9" fill="none" stroke="#000" stroke-width="3.0" stroke-linecap="round" stroke-linejoin="round"/>
<path d="M557.6,245.4 L572.5,252.0M557.6,245.4 L562.0,252.3M557.6,259.5 L572.5,252.0M557.6,259.5 L562.0,252.3" fill="none" stroke="#000" stroke-width="2.55" stroke-linecap="round" stroke-linejoin="round"/>
<path d="M675.2,251.5 Q705.0,252.6 753.5,252.5M675.2,254.7 Q705.0,253.8 753.5,252.9" fill="none" stroke="#000" stroke-width="2.5" stroke-linecap="round" stroke-linejoin="round"/>
<path d="M748.4,244.6 L764.5,252.5M748.4,244.6 L753.5,252.5M748.6,260.4 L764.5,252.5M748.6,260.4 L753.5,252.5" fill="none" stroke="#000" stroke-width="2.55" stroke-linecap="round" stroke-linejoin="round"/>
<path d="M864.0,252.4 Q915.0,253.2 954.0,252.6" fill="none" stroke="#000" stroke-width="2.9" stroke-linecap="round" stroke-linejoin="round"/>
<path d="M949.5,244.2 L964.4,252.6M949.5,244.2 L953.9,252.3M949.5,260.1 L964.4,252.6M949.5,260.1 L953.9,252.3" fill="none" stroke="#000" stroke-width="2.55" stroke-linecap="round" stroke-linejoin="round"/>
<path d="M1064.3,249.9 Q1110.0,251.6 1153.0,252.3M1064.3,255.1 Q1078.0,252.6 1088.8,251.9M1088.8,251.9 Q1120.0,251.6 1153.0,254.0" fill="none" stroke="#000" stroke-width="2.3" stroke-linecap="round" stroke-linejoin="round"/>
<path d="M1149.7,245.1 L1164.0,251.8M1149.7,245.1 L1153.5,252.1M1149.7,259.4 L1164.0,251.8M1149.7,259.4 L1153.5,252.1" fill="none" stroke="#000" stroke-width="2.55" stroke-linecap="round" stroke-linejoin="round"/>
<text transform="translate(678.95,238.90) scale(1.1811,1.0000)" font-family='"Liberation Serif", serif' font-style="italic" font-weight="normal" font-size="37.88" fill="#000" stroke="#000" stroke-width="0.19" stroke-linejoin="round">W</text>
<text transform="translate(878.95,239.30) scale(1.1811,1.0000)" font-family='"Liberation Serif", serif' font-style="italic" font-weight="normal" font-size="37.88" fill="#000" stroke="#000" stroke-width="0.19" stroke-linejoin="round">W</text>
<text transform="translate(1102.77,239.20) scale(1.1341,1.0000)" font-family='"Liberation Serif", serif' font-style="italic" font-weight="normal" font-size="37.88" fill="#000" stroke="#000" stroke-width="0.27" stroke-linejoin="round">W</text>
<text transform="translate(624.50,159.60) scale(0.9525,1.0000)" font-family='"Liberation Serif", serif' font-style="italic" font-weight="normal" font-size="36.65" fill="#000" stroke="#000" stroke-width="0.4" stroke-linejoin="round">U</text>
<text transform="translate(826.78,159.60) scale(0.9565,1.0000)" font-family='"Liberation Serif", serif' font-style="italic" font-weight="normal" font-size="36.65" fill="#000" stroke="#000" stroke-width="0.4" stroke-linejoin="round">U</text>
<text transform="translate(1026.78,159.60) scale(0.9565,1.0000)" font-family='"Liberation Serif", serif' font-style="italic" font-weight="normal" font-size="36.65" fill="#000" stroke="#000" stroke-width="0.4" stroke-linejoin="round">U</text>
<text transform="translate(637.09,363.40) scale(1.0084,1.0000)" font-family='"Liberation Serif", serif' font-style="italic" font-weight="normal" font-size="36.35" fill="#000" stroke="#000" stroke-width="0.4" stroke-linejoin="round">V</text>
<text transform="translate(827.52,363.40) scale(1.0420,1.0000)" font-family='"Liberation Serif", serif' font-style="italic" font-weight="normal" font-size="36.35" fill="#000" stroke="#000" stroke-width="0.4" stroke-linejoin="round">V</text>
<text transform="translate(1027.49,363.40) scale(1.0084,1.0000)" font-family='"Liberation Serif", serif' font-style="italic" font-weight="normal" font-size="36.35" fill="#000" stroke="#000" stroke-width="0.4" stroke-linejoin="round">V</text>
<text transform="translate(596.52,59.80) scale(0.8978,1.0000)" font-family='"Liberation Serif", serif' font-style="italic" font-weight="normal" font-size="33.55" fill="#000" stroke="#000" stroke-width="0.4" stroke-linejoin="round">y</text>
<path d="M598.90,39.40 L603.40,34.50 L607.90,39.40" fill="none" stroke="#000" stroke-width="1.5" stroke-linejoin="miter" stroke-linecap="butt"/>
<text transform="translate(609.92,67.80) scale(1.2670,1.0000)" font-family='"Liberation Serif", serif' font-style="italic" font-weight="normal" font-size="24.87" fill="#000" stroke="#000" stroke-width="0.05" stroke-linejoin="round">t</text>
<path d="M622.6,61.8H636.7" stroke="#000" stroke-width="1.4"/>
<text transform="translate(639.58,67.80) scale(0.9366,1.0000)" font-family='"Liberation Serif", serif' font-style="normal" font-weight="normal" font-size="24.77" fill="#000" stroke="#000" stroke-width="0.3" stroke-linejoin="round">2</text>
<text transform="translate(793.85,59.80) scale(0.8752,1.0000)" font-family='"Liberation Serif", serif' font-style="italic" font-weight="normal" font-size="33.55" fill="#000" stroke="#000" stroke-width="0.4" stroke-linejoin="round">y</text>
<path d="M796.40,39.40 L800.90,34.50 L805.40,39.40" fill="none" stroke="#000" stroke-width="1.5" stroke-linejoin="miter" stroke-linecap="butt"/>
<text transform="translate(807.42,67.80) scale(1.2670,1.0000)" font-family='"Liberation Serif", serif' font-style="italic" font-weight="normal" font-size="24.87" fill="#000" stroke="#000" stroke-width="0.05" stroke-linejoin="round">t</text>
<path d="M820.1,61.8H834.2" stroke="#000" stroke-width="1.4"/>
<text transform="translate(836.03,67.80) scale(0.9490,1.0000)" font-family='"Liberation Serif", serif' font-style="normal" font-weight="normal" font-size="24.84" fill="#000" stroke="#000" stroke-width="0.3" stroke-linejoin="round">1</text>
<text transform="translate(1010.57,60.80) scale(0.9543,1.0000)" font-family='"Liberation Serif", serif' font-style="italic" font-weight="normal" font-size="33.55" fill="#000" stroke="#000" stroke-width="0.4" stroke-linejoin="round">y</text>
<path d="M1013.30,41.40 L1017.80,36.90 L1022.30,41.40" fill="none" stroke="#000" stroke-width="1.5" stroke-linejoin="miter" stroke-linecap="butt"/>
<text transform="translate(1025.32,68.30) scale(1.2670,1.0000)" font-family='"Liberation Serif", serif' font-style="italic" font-weight="normal" font-size="24.87" fill="#000" stroke="#000" stroke-width="0.05" stroke-linejoin="round">t</text>
<text transform="translate(592.87,261.30) scale(1.1810,1.0000)" font-family='"Liberation Serif", serif' font-style="italic" font-weight="normal" font-size="35.89" fill="#000" stroke="#000" stroke-width="0.19" stroke-linejoin="round">h</text>
<text transform="translate(611.42,266.30) scale(1.2670,1.0000)" font-family='"Liberation Serif", serif' font-style="italic" font-weight="normal" font-size="24.87" fill="#000" stroke="#000" stroke-width="0.05" stroke-linejoin="round">t</text>
<path d="M624.1,260.3H638.2" stroke="#000" stroke-width="1.4"/>
<text transform="translate(641.08,266.30) scale(0.9366,1.0000)" font-family='"Liberation Serif", serif' font-style="normal" font-weight="normal" font-size="24.77" fill="#000" stroke="#000" stroke-width="0.3" stroke-linejoin="round">2</text>
<text transform="translate(784.52,261.30) scale(1.1414,1.0000)" font-family='"Liberation Serif", serif' font-style="italic" font-weight="normal" font-size="35.89" fill="#000" stroke="#000" stroke-width="0.25" stroke-linejoin="round">h</text>
<text transform="translate(802.42,266.30) scale(1.2670,1.0000)" font-family='"Liberation Serif", serif' font-style="italic" font-weight="normal" font-size="24.87" fill="#000" stroke="#000" stroke-width="0.05" stroke-linejoin="round">t</text>
<path d="M815.1,260.3H829.2" stroke="#000" stroke-width="1.4"/>
<text transform="translate(831.03,266.30) scale(0.9490,1.0000)" font-family='"Liberation Serif", serif' font-style="normal" font-weight="normal" font-size="24.84" fill="#000" stroke="#000" stroke-width="0.3" stroke-linejoin="round">1</text>
<text transform="translate(998.38,261.80) scale(1.2235,1.0000)" font-family='"Liberation Serif", serif' font-style="italic" font-weight="normal" font-size="34.45" fill="#000" stroke="#000" stroke-width="0.12" stroke-linejoin="round">h</text>
<text transform="translate(1017.82,266.80) scale(1.3140,1.0000)" font-family='"Liberation Serif", serif' font-style="italic" font-weight="normal" font-size="23.98" fill="#000">t</text>
<text transform="translate(598.31,458.30) scale(1.1038,1.0000)" font-family='"Liberation Serif", serif' font-style="italic" font-weight="normal" font-size="30.28" fill="#000" stroke="#000" stroke-width="0.31" stroke-linejoin="round">x</text>
<text transform="translate(613.10,463.80) scale(1.2670,1.0000)" font-family='"Liberation Serif", serif' font-style="italic" font-weight="normal" font-size="21.63" fill="#000" stroke="#000" stroke-width="0.05" stroke-linejoin="round">t</text>
<path d="M624.1,458.6H636.4" stroke="#000" stroke-width="1.25"/>
<text transform="translate(638.90,463.80) scale(0.9366,1.0000)" font-family='"Liberation Serif", serif' font-style="normal" font-weight="normal" font-size="21.55" fill="#000" stroke="#000" stroke-width="0.3" stroke-linejoin="round">2</text>
<text transform="translate(789.81,458.30) scale(1.1038,1.0000)" font-family='"Liberation Serif", serif' font-style="italic" font-weight="normal" font-size="30.28" fill="#000" stroke="#000" stroke-width="0.31" stroke-linejoin="round">x</text>
<text transform="translate(804.60,463.80) scale(1.2670,1.0000)" font-family='"Liberation Serif", serif' font-style="italic" font-weight="normal" font-size="21.63" fill="#000" stroke="#000" stroke-width="0.05" stroke-linejoin="round">t</text>
<path d="M815.6,458.6H827.9" stroke="#000" stroke-width="1.25"/>
<text transform="translate(829.49,463.80) scale(0.9490,1.0000)" font-family='"Liberation Serif", serif' font-style="normal" font-weight="normal" font-size="21.61" fill="#000" stroke="#000" stroke-width="0.3" stroke-linejoin="round">1</text>
<text transform="translate(1001.72,459.80) scale(1.1755,1.0000)" font-family='"Liberation Serif", serif' font-style="italic" font-weight="normal" font-size="29.19" fill="#000" stroke="#000" stroke-width="0.2" stroke-linejoin="round">x</text>
<text transform="translate(1017.49,464.30) scale(1.2517,1.0000)" font-family='"Liberation Serif", serif' font-style="italic" font-weight="normal" font-size="22.03" fill="#000" stroke="#000" stroke-width="0.08" stroke-linejoin="round">t</text>
</svg></body></html>
